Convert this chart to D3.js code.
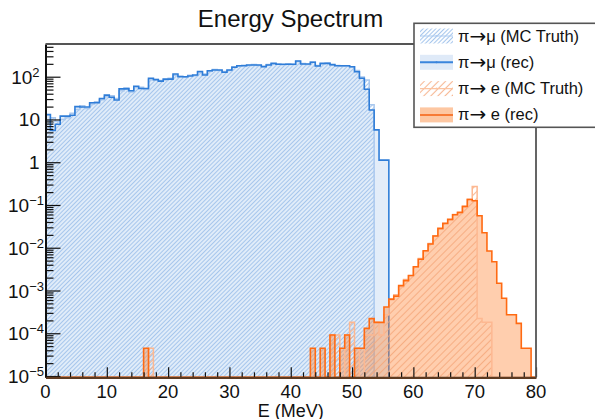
<!DOCTYPE html>
<html>
<head>
<meta charset="utf-8">
<script src="https://cdn.jsdelivr.net/npm/d3@7"></script>
<style>
  html, body { margin: 0; padding: 0; background: #fff; }
  svg { display: block; font-family: "Liberation Sans", Arial, sans-serif; }
</style>
</head>
<body>
<svg id="chart" width="595" height="419"></svg>
<script>
// ---- data: 100 bins of 0.8 MeV from 0 to 80 MeV ----
const binWidth = 0.8;
const nBins = 100;

// pi -> mu, reconstructed (bins 0..69)
const muRec = [
  13, 5.5, 7.7, 12, 12, 12.5, 20, 19.5, 19.5, 24.6,
  24.6, 31, 37, 33, 28.5, 52, 52, 47, 60, 53,
  53, 92, 85, 79, 88, 88, 116, 100, 100, 104,
  110, 132, 110, 138, 143, 143, 127, 143, 166, 181,
  181, 188, 188, 188, 171, 188, 205, 195, 195, 195,
  195, 233, 198, 198, 217, 178, 205, 205, 192, 181,
  181, 181, 171, 131, 92, 51, 16.6, 5.7, 1.12, 1.12
];

// pi -> mu, MC truth (bins 0..66)
const muTruth = [
  9.5, 11, 9, 10, 11, 14, 17, 21, 18, 23,
  26, 29, 34, 36, 31, 47, 55, 44, 56, 57,
  50, 86, 88, 82, 84, 92, 108, 104, 97, 108,
  106, 128, 116, 134, 148, 139, 132, 140, 170, 176,
  186, 184, 192, 183, 178, 192, 200, 198, 190, 200,
  192, 226, 204, 193, 220, 184, 200, 210, 188, 184,
  176, 178, 168, 140, 98, 84, 22
];

// pi -> e, reconstructed (all 100 bins)
const eRec = [
  0, 0, 0, 0, 0, 0, 0, 0, 0, 0,
  0, 0, 0, 0, 0, 0, 0, 0, 0, 0,
  4.45e-5, 0, 0, 0, 0, 0, 0, 0, 0, 0,
  0, 0, 0, 0, 0, 0, 0, 0, 0, 0,
  0, 0, 0, 0, 0, 0, 0, 0, 0, 0,
  0, 0, 0, 0, 4.45e-5, 0, 4.45e-5, 0, 9.1e-5, 0,
  4.45e-5, 9.1e-5, 0, 4.45e-5, 4.45e-5, 1.3e-4, 2.2e-4, 1.8e-4, 1.8e-4, 4.1e-4,
  6.3e-4, 7.4e-4, 1.3e-3, 1.7e-3, 2.25e-3, 3.6e-3, 5.4e-3, 8.5e-3, 0.0122, 0.0188,
  0.0284, 0.037, 0.046, 0.059, 0.067, 0.093, 0.134, 0.126, 0.056, 0.0225,
  0.0084, 0.0047, 0.00148, 6.6e-4, 2.7e-4, 2.7e-4, 1.7e-4, 4.45e-5, 4.45e-5, 0
];

// pi -> e, MC truth (all 100 bins)
const eTruth = [
  0, 0, 0, 0, 0, 0, 0, 0, 0, 0,
  0, 0, 0, 0, 0, 0, 0, 0, 0, 0,
  0, 4.45e-5, 0, 0, 0, 0, 0, 0, 0, 0,
  0, 0, 0, 0, 0, 0, 0, 0, 0, 0,
  0, 0, 0, 0, 0, 0, 0, 0, 0, 0,
  0, 0, 0, 0, 0, 0, 0, 0, 9.1e-5, 9.1e-5,
  0, 9.1e-5, 1.8e-4, 4.45e-5, 0, 9.1e-5, 9.1e-5, 1.8e-4, 9.1e-5, 2.7e-4,
  6.0e-4, 8.0e-4, 1.2e-3, 1.8e-3, 2.2e-3, 3.5e-3, 5.6e-3, 8.2e-3, 0.0125, 0.019,
  0.027, 0.038, 0.045, 0.060, 0.066, 0.090, 0.136, 0.27, 2.2e-4, 1.8e-4,
  1.8e-4, 0, 0, 0, 0, 0, 0, 0, 0, 0
];

const xTicks = [0, 10, 20, 30, 40, 50, 60, 70, 80];
const yExponents = [-5, -4, -3, -2, -1, 0, 1, 2];
// legend labels, split around the arrow (drawn in a wider glyph like ROOT's Symbol font)
const legendLabels = [
  ["π", "μ (MC Truth)"],
  ["π", "μ (rec)"],
  ["π", " e (MC Truth)"],
  ["π", " e (rec)"]
];

// ---- layout ----
const plot = { left: 45.5, right: 536, top: 44, bottom: 377.3 };

const svg = d3.select("#chart");

const x = d3.scaleLinear().domain([0, 80]).range([plot.left, plot.right]);
const y = d3.scaleLog()
  .domain([Math.pow(10, -5.03), Math.pow(10, 2.765)])
  .range([plot.bottom, plot.top]);

// hatch patterns
const defs = svg.append("defs");
function hatch(id, size, color, width) {
  const p = defs.append("pattern")
    .attr("id", id)
    .attr("patternUnits", "userSpaceOnUse")
    .attr("width", size).attr("height", size)
    .attr("patternTransform", "rotate(45)");
  p.append("line")
    .attr("x1", size / 2).attr("y1", 0)
    .attr("x2", size / 2).attr("y2", size)
    .attr("stroke", color).attr("stroke-width", width);
}
hatch("hatchBlue", 3, "#a6c6ec", 1.1);
hatch("hatchOrange", 5, "#f4a679", 1.1);

defs.append("clipPath").attr("id", "plotClip")
  .append("rect")
  .attr("x", plot.left).attr("y", plot.top - 2)
  .attr("width", plot.right - plot.left)
  .attr("height", plot.bottom - plot.top + 4);

// step shapes built from bins
function binPoints(vals) {
  const pts = vals.map((v, i) => [i * binWidth, v]);
  pts.push([vals.length * binWidth, 0]);
  return [[0, 0]].concat(pts);
}
const yv = v => (v > 0 ? Math.min(plot.bottom, y(v)) : plot.bottom);

const line = d3.line()
  .x(d => x(d[0]))
  .y(d => yv(d[1]))
  .curve(d3.curveStepAfter);

const area = d3.area()
  .x(d => x(d[0]))
  .y0(plot.bottom)
  .y1(d => yv(d[1]))
  .curve(d3.curveStepAfter);

const hists = svg.append("g").attr("clip-path", "url(#plotClip)");

function drawHist(vals, fill, fillOpacity, stroke, strokeWidth) {
  const pts = binPoints(vals);
  hists.append("path").attr("d", area(pts))
    .attr("fill", fill).attr("fill-opacity", fillOpacity);
  hists.append("path").attr("d", line(pts))
    .attr("fill", "none")
    .attr("stroke", stroke).attr("stroke-width", strokeWidth);
}

// pi -> mu
hists.append("path").attr("d", area(binPoints(muRec))).attr("fill", "#e3edf9");
drawHist(muTruth, "url(#hatchBlue)", 1, "#a9c8ee", 1.5);
hists.append("path").attr("d", line(binPoints(muRec)))
  .attr("fill", "none").attr("stroke", "#2f7dd8").attr("stroke-width", 1.6);

// pi -> e
hists.append("path").attr("d", area(binPoints(eRec)))
  .attr("fill", "#ff7f2a").attr("fill-opacity", 0.38);
drawHist(eTruth, "url(#hatchOrange)", 0.8, "#fdb891", 1.5);
hists.append("path").attr("d", line(binPoints(eRec)))
  .attr("fill", "none").attr("stroke", "#ff6a12").attr("stroke-width", 1.6);

// ---- axes ----
const yMajors = yExponents.map(e => Math.pow(10, e));
const yMinors = [];
for (let e = -5; e <= 2; e++) {
  for (let k = 2; k <= 9; k++) {
    const v = k * Math.pow(10, e);
    if (v < y.domain()[1]) yMinors.push(v);
  }
}
const xMinors = d3.range(0, 81, 2).filter(v => v % 10 !== 0);

const axisStyle = g => {
  g.selectAll("line").attr("stroke", "#111").attr("stroke-width", 1.2);
  g.selectAll("text").remove();
};

svg.append("g")
  .attr("transform", `translate(${plot.left},0)`)
  .call(d3.axisLeft(y).tickValues(yMinors).tickSize(-8).tickSizeOuter(0).tickFormat(""))
  .call(g => g.select(".domain").remove())
  .call(axisStyle);
svg.append("g")
  .attr("transform", `translate(${plot.left},0)`)
  .call(d3.axisLeft(y).tickValues(yMajors).tickSize(-15).tickSizeOuter(0).tickFormat(""))
  .call(g => g.select(".domain").attr("stroke", "#111").attr("stroke-width", 2))
  .call(axisStyle);

svg.append("g")
  .attr("transform", `translate(0,${plot.bottom})`)
  .call(d3.axisBottom(x).tickValues(xMinors).tickSize(-5).tickSizeOuter(0).tickFormat(""))
  .call(g => g.select(".domain").remove())
  .call(axisStyle);
svg.append("g")
  .attr("transform", `translate(0,${plot.bottom})`)
  .call(d3.axisBottom(x).tickValues(xTicks).tickSize(-10).tickSizeOuter(0).tickFormat(""))
  .call(g => g.select(".domain").attr("stroke", "#5e3b22").attr("stroke-width", 2.2))
  .call(axisStyle);

// frame (top / right)
svg.append("path")
  .attr("d", `M${plot.left},${plot.top}H${plot.right}V${plot.bottom}`)
  .attr("fill", "none").attr("stroke", "#555").attr("stroke-width", 1.8);

// y tick labels
yExponents.forEach(e => {
  const ty = y(Math.pow(10, e)) + 7;
  const t = svg.append("text")
    .attr("y", ty).attr("font-size", 19).attr("text-anchor", "end").attr("fill", "#111");
  if (e === 0) {
    t.attr("x", 39.5).text("1");
  } else if (e === 1) {
    t.attr("x", 40).text("10");
  } else {
    t.attr("x", e < 0 ? 44 : 39.5);
    t.append("tspan").text("10");
    t.append("tspan").attr("font-size", 13).attr("dy", -7)
      .text(e < 0 ? "\u2212" + (-e) : String(e));
  }
});

// x tick labels
svg.append("g").selectAll("text")
  .data(xTicks)
  .join("text")
  .attr("x", d => x(d)).attr("y", 397.5)
  .attr("text-anchor", "middle").attr("font-size", 18.5).attr("fill", "#111")
  .text(d => d);

svg.append("text")
  .attr("x", (plot.left + plot.right) / 2).attr("y", 416.5)
  .attr("text-anchor", "middle").attr("font-size", 18).attr("fill", "#111")
  .text("E (MeV)");

// title
svg.append("text")
  .attr("x", 290.5).attr("y", 27)
  .attr("text-anchor", "middle").attr("font-size", 24).attr("fill", "#111")
  .text("Energy Spectrum");

// ---- legend ----
const leg = svg.append("g");
leg.append("rect")
  .attr("x", 414).attr("y", 23.3).attr("width", 220).attr("height", 104)
  .attr("fill", "#fff").attr("stroke", "#555").attr("stroke-width", 1.6);

const legendStyles = [
  { fill: "url(#hatchBlue)", line: "#aecbef", lw: 1.2 },
  { fill: "#dfeaf8", line: "#3a85dc", lw: 2 },
  { fill: "url(#hatchOrange)", line: "#fcc3a0", lw: 1.2 },
  { fill: "#fdc7a2", line: "#f77a35", lw: 2 }
];
legendLabels.forEach((parts, i) => {
  const cy = 36 + i * 26.3;
  const s = legendStyles[i];
  leg.append("rect")
    .attr("x", 420).attr("y", cy - 7.5).attr("width", 33).attr("height", 15)
    .attr("fill", s.fill).attr("fill-opacity", i === 2 ? 0.8 : 1);
  leg.append("line")
    .attr("x1", 420).attr("x2", 453).attr("y1", cy).attr("y2", cy)
    .attr("stroke", s.line).attr("stroke-width", s.lw);
  leg.append("circle").attr("cx", 436.5).attr("cy", cy).attr("r", 1)
    .attr("fill", s.line);
  const t = leg.append("text")
    .attr("x", 458).attr("y", cy + 5.5)
    .attr("font-size", 16.5).attr("fill", "#111");
  t.append("tspan").text(parts[0]);
  t.append("tspan").attr("font-family", "DejaVu Sans").attr("font-size", 20)
    .attr("dy", 1).text("→");
  t.append("tspan").attr("dy", -1).text(parts[1]);
});
</script>
</body>
</html>
